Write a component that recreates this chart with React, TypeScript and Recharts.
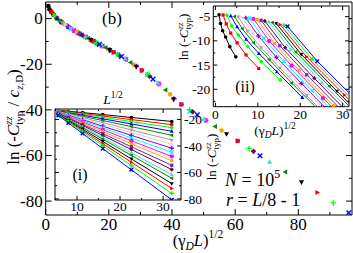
import React from 'react';
import { ScatterChart, Scatter, XAxis, YAxis } from 'recharts';

const FONT = '"Liberation Serif", "DejaVu Serif", serif';

// xmgrace-like colour / symbol cycle, one entry per damping rate gamma_D
const seriesColors = ['#000000', '#ff0000', '#00ff00', '#0000ff', '#008b00', '#bc8f8f', '#d3d3d3', '#9400d3', '#00ffff', '#ff00ff', '#ffa500', '#7221bc', '#670748', '#40e0d0', '#008b00', '#000000', '#ff0000', '#00ff00', '#0000ff'];
const seriesSymbols = ['circle', 'square', 'diamond', 'up', 'left', 'down', 'right', 'plus', 'x', 'star', 'circle', 'square', 'diamond', 'up', 'left', 'down', 'right', 'plus', 'x'];

// system sizes: L^{1/2}, and L^{1/2} relative to the largest one
const sqrtL = [5.66, 8, 11.31, 16, 22.63, 32];
const lRatio = [0.177, 0.25, 0.354, 0.5, 0.707, 1];
// (gamma_D L)^{1/2} at the largest L, per series
const xMax = [4.8, 10.2, 15.3, 20.5, 25.4, 30.4, 35.5, 40.6, 45.6, 50.7, 55.7, 60.8, 65.8, 70.9, 75.9, 81.0, 86.0, 91.1, 96.0];

// main panel: ln(-C/c_zD)
const mainY = [
  [5.5, 4.1, 3.1, 1.9, 0.4, -1.3],
  [2.9, 1.6, 0.2, -1.6, -3.6, -6.2],
  [1.4, -0.1, -1.9, -4.0, -6.7, -10.1],
  [0.1, -1.7, -3.7, -6.2, -9.4, -13.9],
  [-1.0, -2.9, -5.2, -8.1, -12.0, -17.9],
  [-1.9, -4.0, -6.6, -9.8, -14.7, -22.7],
  [-2.8, -5.1, -8.0, -12.0, -17.6, -28.2],
  [-3.6, -6.1, -9.4, -13.8, -21.0, -35.2],
  [-4.4, -7.1, -10.7, -15.7, -24.5, -40.7],
  [-5.2, -8.1, -12.0, -17.8, -28.6, -44.6],
  [-5.9, -9.0, -13.3, -20.1, -33.2, -49.1],
  [-6.6, -9.8, -14.7, -22.7, -37.6, -53.6],
  [-7.3, -11.1, -16.1, -25.3, -40.8, -58.2],
  [-8.0, -11.8, -17.6, -28.2, -44.1, -62.8],
  [-8.6, -12.7, -19.2, -31.3, -47.3, -67.2],
  [-9.3, -13.7, -21.0, -35.3, -50.6, -71.7],
  [-10.0, -14.7, -22.7, -37.6, -53.6, -76.2],
  [-10.6, -15.6, -24.5, -39.9, -56.9, -80.8],
  [-11.3, -16.6, -26.5, -42.2, -60.1, -85.1],
];

// inset (i): ln(-C) versus L^{1/2}
const insetIY = [
  [-13.0, -13.8, -14.8, -16.3, -18.5, -21.5],
  [-13.2, -14.1, -15.5, -17.4, -20.1, -23.9],
  [-13.3, -14.5, -16.1, -18.4, -21.6, -26.2],
  [-13.5, -14.9, -16.8, -19.5, -23.4, -28.9],
  [-13.7, -15.3, -17.6, -20.8, -25.4, -31.9],
  [-14.0, -15.9, -18.6, -22.4, -27.9, -35.6],
  [-14.2, -16.3, -19.4, -23.8, -30.0, -38.7],
  [-14.4, -16.8, -20.2, -25.1, -32.0, -41.7],
  [-14.6, -17.2, -21.0, -26.4, -34.0, -44.7],
  [-14.8, -17.7, -21.9, -27.8, -36.1, -47.9],
  [-15.0, -18.2, -22.7, -29.2, -38.3, -51.1],
  [-15.2, -18.7, -23.7, -30.7, -40.6, -54.6],
  [-15.5, -19.2, -24.5, -32.1, -42.7, -57.8],
  [-15.7, -19.8, -25.5, -33.7, -45.2, -61.5],
  [-15.9, -20.2, -26.3, -34.9, -47.1, -64.4],
  [-16.2, -20.8, -27.4, -36.6, -49.8, -68.4],
  [-16.4, -21.4, -28.3, -38.3, -52.3, -72.1],
  [-16.7, -21.9, -29.3, -39.9, -54.8, -75.8],
  [-17.0, -22.6, -30.6, -42.0, -58.0, -80.7],
];

// inset (ii): ln(-C) versus (gamma_D L)^{1/2}
const insetIIY = [
  [-4.6, -6.4, -7.9, -9.2, -11.2, -13.3],
  [-4.65, -6.5, -8.4, -10.4, -12.9, -15.7],
  [-4.7, -6.9, -8.8, -11.2, -14.3, -18.1],
  [-4.85, -7.1, -9.7, -12.6, -16.4, -21.7],
  [-4.95, -7.5, -10.4, -13.9, -18.7, -25.2],
  [-5.05, -8.0, -11.4, -15.6, -21.3, -29.1],
  [-5.15, -8.5, -12.4, -17.2, -23.7, -32.8],
  [-5.25, -9.0, -13.4, -18.8, -26.3, -36.7],
  [-5.35, -9.5, -14.2, -20.3, -28.5, -40.2],
  [-5.45, -10.0, -15.1, -21.8, -31.0, -44.0],
  [-5.6, -10.5, -16.1, -23.4, -33.6, -47.5],
  [-5.75, -11.0, -17.0, -24.9, -35.8, -51.0],
  [-5.9, -11.4, -17.7, -26.3, -38.2, -54.8],
  [-6.05, -11.8, -18.6, -27.7, -40.5, -58.4],
  [-6.2, -12.3, -19.4, -29.1, -42.8, -62.0],
  [-6.4, -12.8, -20.4, -30.8, -45.4, -65.8],
  [-6.6, -13.3, -21.2, -32.2, -47.8, -69.5],
  [-6.8, -13.8, -22.1, -33.7, -50.2, -73.3],
  [-7.0, -14.2, -22.9, -35.1, -52.5, -77.0],
];

const mainXTicks = [0, 10, 20, 30, 40, 50, 60, 70, 80, 90];
const mainXLabels = [0, 20, 40, 60, 80];
const mainYTicks = [-80, -70, -60, -50, -40, -30, -20, -10, 0];
const mainYLabels = [-80, -60, -40, -20, 0];
const iXTicks = [5, 10, 15, 20, 25, 30];
const iXLabels = [10, 20, 30];
const iYTicks = [-80, -70, -60, -50, -40, -30, -20];
const iYLabels = [-80, -60, -40, -20];
const iiXTicks = [0, 5, 10, 15, 20, 25, 30];
const iiXLabels = [0, 10, 20, 30];
const iiYTicks = [-22.5, -20, -17.5, -15, -12.5, -10, -7.5, -5];
const iiYLabels = [-20, -15, -10, -5];

const mainData = xMax.map((m, k) => lRatio.map((r, j) => ({ x: m * r, y: mainY[k][j] })));
const insetIIData = xMax.map((m, k) => lRatio.map((r, j) => ({ x: m * r, y: insetIIY[k][j] })));
const insetIData = insetIY.map((ys) => sqrtL.map((s, j) => ({ x: s, y: ys[j] })));

function Marker({ cx, cy, color, sym, r }: any) {
  if (cx == null || cy == null || isNaN(cx) || isNaN(cy)) return <g />;
  const s = r;
  switch (sym) {
    case 'circle':
      return <circle cx={cx} cy={cy} r={s} fill={color} />;
    case 'square':
      return <rect x={cx - s * 0.9} y={cy - s * 0.9} width={s * 1.8} height={s * 1.8} fill={color} />;
    case 'diamond':
      return <polygon points={`${cx},${cy - s * 1.2} ${cx + s * 1.2},${cy} ${cx},${cy + s * 1.2} ${cx - s * 1.2},${cy}`} fill={color} />;
    case 'up':
      return <polygon points={`${cx},${cy - s * 1.2} ${cx + s * 1.1},${cy + s * 0.8} ${cx - s * 1.1},${cy + s * 0.8}`} fill={color} />;
    case 'down':
      return <polygon points={`${cx},${cy + s * 1.2} ${cx + s * 1.1},${cy - s * 0.8} ${cx - s * 1.1},${cy - s * 0.8}`} fill={color} />;
    case 'left':
      return <polygon points={`${cx - s * 1.2},${cy} ${cx + s * 0.8},${cy - s * 1.1} ${cx + s * 0.8},${cy + s * 1.1}`} fill={color} />;
    case 'right':
      return <polygon points={`${cx + s * 1.2},${cy} ${cx - s * 0.8},${cy - s * 1.1} ${cx - s * 0.8},${cy + s * 1.1}`} fill={color} />;
    case 'plus':
      return <path d={`M${cx - s * 1.2},${cy}H${cx + s * 1.2}M${cx},${cy - s * 1.2}V${cy + s * 1.2}`} stroke={color} strokeWidth={1.4} fill="none" />;
    case 'x':
      return <path d={`M${cx - s},${cy - s}L${cx + s},${cy + s}M${cx - s},${cy + s}L${cx + s},${cy - s}`} stroke={color} strokeWidth={1.4} fill="none" />;
    default:
      return (
        <path
          d={`M${cx - s * 1.2},${cy}H${cx + s * 1.2}M${cx},${cy - s * 1.2}V${cy + s * 1.2}M${cx - s * 0.85},${cy - s * 0.85}L${cx + s * 0.85},${cy + s * 0.85}M${cx - s * 0.85},${cy + s * 0.85}L${cx + s * 0.85},${cy - s * 0.85}`}
          stroke={color}
          strokeWidth={1.2}
          fill="none"
        />
      );
  }
}

type Orient = 'left' | 'right' | 'top' | 'bottom';
const near = (arr: number[], v: number) => arr.some((m) => Math.abs(m - v) < 1e-9);

function makeTick(orient: Orient, labels: number[], majors: number[], majorLen: number, minorLen: number, fs: number, gap: number) {
  return (props: any) => {
    const { x, y, payload } = props;
    const v = payload.value;
    const len = near(majors, v) ? majorLen : minorLen;
    const show = near(labels, v);
    const tp = { fontFamily: FONT, fontSize: fs, fill: '#000' };
    let line: any;
    let text: any = null;
    if (orient === 'left') {
      line = <line x1={x} y1={y} x2={x + len} y2={y} stroke="#000" strokeWidth={1} />;
      if (show) text = <text x={x - gap} y={y + fs * 0.34} textAnchor="end" {...tp}>{v}</text>;
    } else if (orient === 'right') {
      line = <line x1={x} y1={y} x2={x - len} y2={y} stroke="#000" strokeWidth={1} />;
      if (show) text = <text x={x + gap} y={y + fs * 0.34} textAnchor="start" {...tp}>{v}</text>;
    } else if (orient === 'bottom') {
      line = <line x1={x} y1={y} x2={x} y2={y - len} stroke="#000" strokeWidth={1} />;
      if (show) text = <text x={x} y={y + gap + fs * 0.68} textAnchor="middle" {...tp}>{v}</text>;
    } else {
      line = <line x1={x} y1={y} x2={x} y2={y + len} stroke="#000" strokeWidth={1} />;
      if (show) text = <text x={x} y={y - gap} textAnchor="middle" {...tp}>{v}</text>;
    }
    return (
      <g>
        {line}
        {text}
      </g>
    );
  };
}

const axisCommon = {
  type: 'number' as const,
  allowDataOverflow: true,
  tickLine: false,
  tickSize: 0,
  tickMargin: 0,
  interval: 0 as const,
  axisLine: { stroke: '#000', strokeWidth: 1 },
};

const hiddenShape = () => <g />;

// Each chart: plot box set through margins; axes are 1px thick bands.
function MainChart() {
  return (
    <ScatterChart width={353} height={253} margin={{ top: 1, right: 0, bottom: 37, left: 0 }}>
      <XAxis {...axisCommon} xAxisId="b" dataKey="x" orientation="bottom" height={1} domain={[0, 97]} ticks={mainXTicks} tick={makeTick('bottom', mainXLabels, mainXLabels, 6, 3, 17, 3)} />
      <XAxis {...axisCommon} xAxisId="t" dataKey="x" orientation="top" height={1} domain={[0, 97]} ticks={mainXTicks} tick={makeTick('top', [], mainXLabels, 6, 3, 17, 5)} />
      <YAxis {...axisCommon} yAxisId="l" dataKey="y" orientation="left" width={45.7} domain={[-86.1, 7.3]} ticks={mainYTicks} tick={makeTick('left', mainYLabels, mainYLabels, 6, 3, 17, 3)} />
      <YAxis {...axisCommon} yAxisId="r" dataKey="y" orientation="right" width={1} domain={[-86.1, 7.3]} ticks={mainYTicks} tick={makeTick('right', [], mainYLabels, 6, 3, 17, 3)} />
      {mainData.map((d, k) => (
        <Scatter
          key={k}
          xAxisId="b"
          yAxisId="l"
          data={d}
          isAnimationActive={false}
          shape={(p: any) => <Marker cx={p.cx} cy={p.cy} color={seriesColors[k]} sym={seriesSymbols[k]} r={2.3} />}
        />
      ))}
      <Scatter xAxisId="t" yAxisId="r" data={mainData[0]} isAnimationActive={false} shape={hiddenShape} />
    </ScatterChart>
  );
}

function InsetI() {
  return (
    <ScatterChart width={353} height={253} margin={{ top: 108, right: 171, bottom: 52, left: 54 }}>
      <XAxis {...axisCommon} xAxisId="b" dataKey="x" orientation="bottom" height={1} domain={[4.9, 34.15]} ticks={iXTicks} tick={makeTick('bottom', iXLabels, iXLabels, 4, 2, 13.5, 2)} />
      <XAxis {...axisCommon} xAxisId="t" dataKey="x" orientation="top" height={1} domain={[4.9, 34.15]} ticks={iXTicks} tick={makeTick('top', [], iXLabels, 4, 2, 13.5, 2)} />
      <YAxis {...axisCommon} yAxisId="r" dataKey="y" orientation="right" width={1} domain={[-80.8, -12.1]} ticks={iYTicks} tick={makeTick('right', iYLabels, iYLabels, 4, 2, 13.5, 3)} />
      <YAxis {...axisCommon} yAxisId="l" dataKey="y" orientation="left" width={1} domain={[-80.8, -12.1]} ticks={iYTicks} tick={makeTick('left', [], iYLabels, 4, 2, 13.5, 3)} />
      {insetIData.map((d, k) => (
        <Scatter
          key={k}
          xAxisId="b"
          yAxisId="r"
          data={d}
          isAnimationActive={false}
          line={{ stroke: seriesColors[k], strokeWidth: 1 }}
          lineType="joint"
          shape={(p: any) => <Marker cx={p.cx} cy={p.cy} color={seriesColors[k]} sym={seriesSymbols[k]} r={1.8} />}
        />
      ))}
      <Scatter xAxisId="t" yAxisId="l" data={insetIData[0]} isAnimationActive={false} shape={hiddenShape} />
    </ScatterChart>
  );
}

function InsetII() {
  return (
    <ScatterChart width={353} height={253} margin={{ top: 5, right: 3, bottom: 145.3, left: 212.3 }}>
      <XAxis {...axisCommon} xAxisId="b" dataKey="x" orientation="bottom" height={1} domain={[-0.5, 31.5]} ticks={iiXTicks} tick={makeTick('bottom', iiXLabels, iiXLabels, 4, 2, 13.5, 3.5)} />
      <XAxis {...axisCommon} xAxisId="t" dataKey="x" orientation="top" height={1} domain={[-0.5, 31.5]} ticks={iiXTicks} tick={makeTick('top', [], iiXLabels, 4, 2, 13.5, 4)} />
      <YAxis {...axisCommon} yAxisId="l" dataKey="y" orientation="left" width={1} domain={[-23.6, -2.8]} ticks={iiYTicks} tick={makeTick('left', iiYLabels, iiYLabels, 4, 2, 13.5, 3)} />
      <YAxis {...axisCommon} yAxisId="r" dataKey="y" orientation="right" width={1} domain={[-23.6, -2.8]} ticks={iiYTicks} tick={makeTick('right', [], iiYLabels, 4, 2, 13.5, 3)} />
      {insetIIData.map((d, k) => (
        <Scatter
          key={k}
          xAxisId="b"
          yAxisId="l"
          data={d}
          isAnimationActive={false}
          line={{ stroke: seriesColors[k], strokeWidth: 1 }}
          lineType="joint"
          shape={(p: any) => <Marker cx={p.cx} cy={p.cy} color={seriesColors[k]} sym={seriesSymbols[k]} r={1.8} />}
        />
      ))}
      <Scatter xAxisId="t" yAxisId="r" data={insetIIData[0]} isAnimationActive={false} shape={hiddenShape} />
    </ScatterChart>
  );
}

function Overlay() {
  const t = { fontFamily: FONT, fill: '#000' };
  return (
    <svg width={353} height={253} style={{ position: 'absolute', left: 0, top: 0, pointerEvents: 'none' }}>
      <text x={112} y={24} textAnchor="middle" fontSize={17} {...t}>(b)</text>
      <text x={245} y={92} textAnchor="middle" fontSize={16} {...t}>(ii)</text>
      <text x={80} y={180} textAnchor="middle" fontSize={16} {...t}>(i)</text>
      <text x={225} y={186} fontSize={18} {...t}>
        <tspan fontStyle="italic">N</tspan> = 10<tspan fontSize={12} dy={-8}>5</tspan>
      </text>
      <text x={226} y={206} fontSize={18} {...t}>
        <tspan fontStyle="italic">r</tspan> = <tspan fontStyle="italic">L</tspan>/8 - 1
      </text>
      {/* main x label */}
      <text x={198} y={246} textAnchor="middle" fontSize={16.5} {...t}>
        (γ<tspan fontSize={11.5} dy={4} fontStyle="italic">D</tspan>
        <tspan dy={-4} fontStyle="italic">L</tspan>
        <tspan>)</tspan>
        <tspan fontSize={11.5} dy={-8}>1/2</tspan>
      </text>
      {/* main y label */}
      <text transform="translate(19,117) rotate(-90)" textAnchor="middle" fontSize={17} {...t}>
        <tspan>ln (-</tspan>
        <tspan fontStyle="italic">C</tspan>
        <tspan fontSize={11} fontStyle="italic" dy={-7}>zz</tspan>
        <tspan fontSize={11} dx={-8.6} dy={11}>typ</tspan>
        <tspan dy={-4}> / </tspan>
        <tspan fontStyle="italic">c</tspan>
        <tspan fontSize={11} dy={4} fontStyle="italic">z</tspan>
        <tspan fontSize={11}>,D</tspan>
        <tspan dy={-4}>)</tspan>
      </text>
      {/* inset (ii) labels */}
      <text x={275} y={134.5} textAnchor="middle" fontSize={13.5} {...t}>
        (γ<tspan fontSize={9.5} dy={3} fontStyle="italic">D</tspan>
        <tspan dy={-3} fontStyle="italic">L</tspan>
        <tspan>)</tspan>
        <tspan fontSize={9.5} dy={-6}>1/2</tspan>
      </text>
      <text transform="translate(188,37) rotate(-90)" textAnchor="middle" fontSize={13} {...t}>
        <tspan>ln (-</tspan>
        <tspan fontStyle="italic">C</tspan>
        <tspan fontSize={9} fontStyle="italic" dy={-5}>zz</tspan>
        <tspan fontSize={9} dx={-7} dy={8}>typ</tspan>
        <tspan dy={-3}>)</tspan>
      </text>
      {/* inset (i) labels */}
      <text x={113} y={104} textAnchor="middle" fontSize={13.5} {...t}>
        <tspan fontStyle="italic">L</tspan>
        <tspan fontSize={9.5} dy={-6}>1/2</tspan>
      </text>
      <text transform="translate(216,157) rotate(-90)" textAnchor="middle" fontSize={13} {...t}>
        <tspan>ln (-</tspan>
        <tspan fontStyle="italic">C</tspan>
        <tspan fontSize={9} fontStyle="italic" dy={-5}>zz</tspan>
        <tspan fontSize={9} dx={-7} dy={8}>typ</tspan>
        <tspan dy={-3}>)</tspan>
      </text>
    </svg>
  );
}

export default function App() {
  const abs: React.CSSProperties = { position: 'absolute', left: 0, top: 0 };
  return (
    <div style={{ position: 'absolute', left: 0, top: 0, width: 353, height: 253, background: '#fff', overflow: 'hidden' }}>
      <div style={abs}>
        <MainChart />
      </div>
      <div style={{ position: 'absolute', left: 55, top: 109, width: 126, height: 91, background: '#fff' }} />
      <div style={abs}>
        <InsetI />
      </div>
      <div style={{ position: 'absolute', left: 213.3, top: 6, width: 135.7, height: 100.7, background: '#fff' }} />
      <div style={abs}>
        <InsetII />
      </div>
      <Overlay />
    </div>
  );
}
